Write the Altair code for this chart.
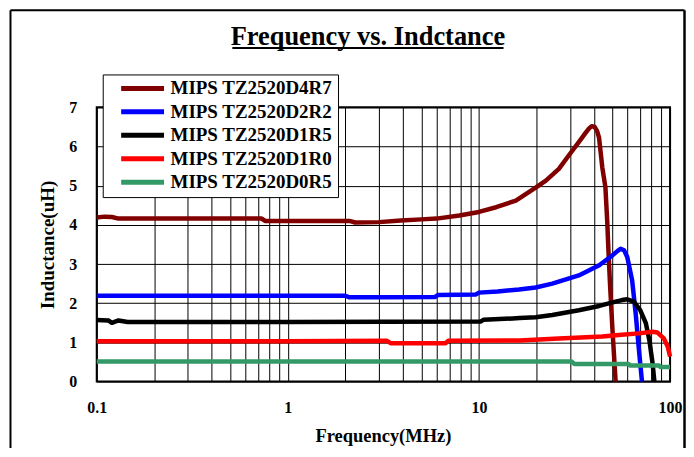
import altair as alt
import pandas as pd

TITLE = "Frequency vs. Indctance"
X_TITLE = "Frequency(MHz)"
Y_TITLE = "Inductance(uH)"

SERIES = ["MIPS TZ2520D4R7", "MIPS TZ2520D2R2", "MIPS TZ2520D1R5",
          "MIPS TZ2520D1R0", "MIPS TZ2520D0R5"]
COLORS = ["#800000", "#0000FF", "#000000", "#FF0000", "#339966"]

# MIPS TZ2520D4R7
F_D4R7 = [0.1, 0.11, 0.12, 0.13, 0.2, 0.5, 0.73, 0.76, 1.0, 2.1, 2.25, 3.0, 3.9,
          5.0, 6.0, 7.9, 10, 12.3, 15.6, 19.8, 22.4, 26.2, 29.5, 33.3, 36.3,
          37.8, 38.9, 40.3, 41.5, 42.5, 44.2, 45.9, 46.9, 47.6, 48.5, 50.0, 51.9]
L_D4R7 = [4.19, 4.21, 4.20, 4.16, 4.16, 4.16, 4.16, 4.10, 4.10, 4.10, 4.06, 4.07, 4.11,
          4.14, 4.16, 4.24, 4.33, 4.45, 4.62, 4.95, 5.13, 5.43, 5.77, 6.11, 6.36,
          6.47, 6.52, 6.50, 6.40, 6.23, 5.47, 4.96, 4.10, 3.35, 2.50, 1.30, 0.0]

# MIPS TZ2520D2R2
F_D2R2 = [0.1, 1.0, 2.0, 2.1, 3.0, 5.9, 6.1, 9.6, 10.0, 12.5, 16.2, 19.8, 24.2,
          33.3, 42.6, 49.9, 53.0, 55.1, 57.5, 59.7, 63.3, 66.1, 68.5, 71.3]
L_D2R2 = [2.19, 2.19, 2.19, 2.15, 2.15, 2.16, 2.21, 2.22, 2.27, 2.30, 2.35, 2.40, 2.50,
          2.71, 2.97, 3.22, 3.33, 3.39, 3.35, 3.18, 2.59, 1.74, 0.89, 0.0]

# MIPS TZ2520D1R5
F_D1R5 = [0.1, 0.115, 0.12, 0.13, 0.145, 1.0, 10.2, 10.6, 15.0, 16.3, 19.8, 24.2,
          33.3, 42.6, 51.9, 56.0, 59.7, 64.6, 69.9, 74.7, 77.9, 81.0, 82.8]
L_D1R5 = [1.57, 1.56, 1.50, 1.56, 1.52, 1.52, 1.53, 1.58, 1.61, 1.62, 1.64, 1.70,
          1.82, 1.93, 2.04, 2.08, 2.10, 2.04, 1.82, 1.49, 1.06, 0.47, 0.0]

# MIPS TZ2520D1R0
F_D1R0 = [0.1, 1.0, 3.3, 3.45, 6.7, 6.9, 16.3, 26.2, 44.2, 53.9, 68.5, 81.0, 85.9,
          92.8, 97.3, 100]
L_D1R0 = [1.03, 1.03, 1.04, 0.98, 0.98, 1.04, 1.05, 1.10, 1.15, 1.19, 1.23, 1.27, 1.25,
          1.10, 0.89, 0.64]

# MIPS TZ2520D0R5
F_D0R5 = [0.1, 1.0, 10.0, 30.5, 31.6, 60.5, 61.7, 87.6, 89.0, 100]
L_D0R5 = [0.51, 0.51, 0.51, 0.51, 0.45, 0.45, 0.41, 0.41, 0.37, 0.37]

X_GRID = [0.1, 0.2, 0.3, 0.4, 0.5, 0.6, 0.7, 0.8, 0.9,
          1, 2, 3, 4, 5, 6, 7, 8, 9,
          10, 20, 30, 40, 50, 60, 70, 80, 90, 100]
X_LABELS = [0.1, 1, 10, 100]
Y_TICKS = [0, 1, 2, 3, 4, 5, 6, 7]

FONT = "Liberation Serif"

freqs = [F_D4R7, F_D2R2, F_D1R5, F_D1R0, F_D0R5]
inds = [L_D4R7, L_D2R2, L_D1R5, L_D1R0, L_D0R5]
rows = []
for name, fs, ls in zip(SERIES, freqs, inds):
    for f, l in zip(fs, ls):
        rows.append({"series": name, "freq": f, "L": l})
df = pd.DataFrame(rows)

label_list = ",".join(str(v) for v in X_LABELS)
x_enc = alt.X(
    "freq:Q",
    scale=alt.Scale(type="log", domain=[0.1, 100], nice=False),
    axis=alt.Axis(
        values=X_GRID, format="~g",
        labelExpr=f"indexof([{label_list}], datum.value) >= 0 ? datum.label : ''",
        title=X_TITLE, grid=True, gridColor="black", gridWidth=1, gridOpacity=1,
        domain=False, ticks=False, tickSize=0, labelFlush=False, labelOverlap=False,
        labelFont=FONT, labelFontSize=16, labelFontWeight="bold", labelColor="black",
        labelPadding=18, titleFont=FONT, titleFontSize=18.5, titleFontWeight="bold",
        titleColor="black", titleX=287, titleY=60, titleBaseline="alphabetic",
        titleAlign="center",
    ),
)
y_enc = alt.Y(
    "L:Q",
    scale=alt.Scale(domain=[0, 7], nice=False),
    axis=alt.Axis(
        values=Y_TICKS, format="d", title=Y_TITLE, grid=True, gridColor="black",
        gridWidth=1, gridOpacity=1, domain=False, ticks=False, tickSize=0,
        labelFont=FONT, labelFontSize=16, labelFontWeight="bold", labelColor="black",
        labelPadding=20, titleFont=FONT, titleFontSize=19, titleFontWeight="bold",
        titleColor="black", titleX=-49, titleY=137.5, titleAngle=270,
        titleBaseline="middle", titleAlign="center",
    ),
)
color_enc = alt.Color(
    "series:N",
    scale=alt.Scale(domain=SERIES, range=COLORS),
    legend=alt.Legend(
        orient="none", legendX=6, legendY=-33, title=None,
        symbolType="stroke", symbolSize=1849, symbolStrokeWidth=5,
        symbolOffset=11, clipHeight=18, rowPadding=4.5, padding=5,
        labelOffset=4, labelLimit=400,
        labelFont=FONT, labelFontSize=19, labelFontWeight="bold", labelColor="black",
        strokeColor="black", fillColor="white",
    ),
)

layers = []
for name in SERIES:
    layers.append(
        alt.Chart(df)
        .transform_filter(alt.datum.series == name)
        .mark_line(strokeWidth=4.5, strokeJoin="round", strokeCap="butt")
        .encode(x=x_enc, y=y_enc, color=color_enc)
    )

title_df = pd.DataFrame({"t": [TITLE]})
title_text = alt.Chart(title_df).mark_text(
    font=FONT, fontSize=26.5, fontWeight="bold", color="black",
    align="center", baseline="alphabetic",
).encode(x=alt.value(272), y=alt.value(-62.5), text="t:N")

underline = alt.Chart(title_df).mark_rule(color="black", strokeWidth=2).encode(
    x=alt.value(136), x2=alt.value(408), y=alt.value(-59.5))

frame_top = alt.Chart(title_df).mark_rule(color="black", strokeWidth=2).encode(
    x=alt.value(-86.5), x2=alt.value(589.5), y=alt.value(-97.5))
frame_left = alt.Chart(title_df).mark_rule(color="black", strokeWidth=2).encode(
    x=alt.value(-86.5), y=alt.value(-97.5), y2=alt.value(345))
frame_right = alt.Chart(title_df).mark_rule(color="black", strokeWidth=2.5).encode(
    x=alt.value(589.5), y=alt.value(-97.5), y2=alt.value(345))

chart = (
    alt.layer(*layers, title_text, underline, frame_top, frame_left, frame_right)
    .properties(
        width=575, height=275,
        autosize=alt.AutoSizeParams(type="none"),
        padding={"left": 89, "top": 99, "right": 16, "bottom": 66},
        background="white",
    )
    .configure_view(stroke="black", strokeWidth=2)
)

chart.save("out.html", embed_options={"renderer": "svg", "actions": False})
